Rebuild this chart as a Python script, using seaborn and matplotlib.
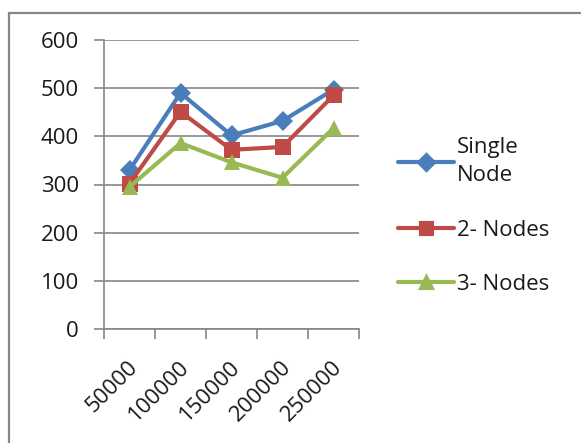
import matplotlib
matplotlib.use("Agg")
import matplotlib.pyplot as plt
import seaborn as sns
import pandas as pd
from matplotlib.patches import Rectangle
from matplotlib.transforms import ScaledTranslation

sizes = ["50000", "100000", "150000", "200000", "250000"]
single_node = [330, 490, 402, 432, 497]
two_nodes = [302, 451, 372, 378, 485]
three_nodes = [295, 386, 346, 314, 417]
series_names = ["Single\nNode", "2- Nodes", "3- Nodes"]
y_ticks = [0, 100, 200, 300, 400, 500, 600]

df = pd.DataFrame({
    "size": sizes * 3,
    "time": single_node + two_nodes + three_nodes,
    "series": [series_names[0]] * 5 + [series_names[1]] * 5 + [series_names[2]] * 5,
})

sns.set_theme(style="white")
plt.rcParams["font.family"] = ["Open Sans", "DejaVu Sans"]

colors = ["#4A7EBB", "#BE4B48", "#98B954"]
fs = 16

fig = plt.figure(figsize=(5.81, 4.43), dpi=100)
ax = fig.add_axes([104 / 581, 1 - 329 / 443, 255 / 581, 289 / 443])

sns.pointplot(data=df, x="size", y="time", hue="series", order=sizes,
              hue_order=series_names, palette=colors,
              markers=["D", "s", "^"], linestyles=["-", "-", "-"],
              errorbar=None, markersize=10, linewidth=3, ax=ax, legend=True)

msizes = [10.5, 12, 12]
for line, ms in zip(ax.lines[:3], msizes):
    line.set_markersize(ms)
    line.set_markeredgewidth(0)

ax.set_xlim(-0.5, 4.5)
ax.set_ylim(0, 600)
ax.set_yticks(y_ticks)
ax.set_yticklabels([str(v) for v in y_ticks], fontsize=fs, color="#1a1a1a")
ax.yaxis.grid(True, color="#868686", linewidth=1.2)
ax.set_axisbelow(True)
ax.set_xlabel("")
ax.set_ylabel("")

ax.set_xticks(range(len(sizes)))
ax.set_xticklabels(sizes, rotation=45, ha="right", va="top",
                   rotation_mode="anchor", fontsize=fs, color="#1a1a1a")
ax.tick_params(axis="x", which="major", length=0, pad=20)
ax.set_xticks([i - 0.5 for i in range(len(sizes) + 1)], minor=True)
ax.tick_params(axis="x", which="minor", length=7, width=1.2, color="#868686",
               direction="out", bottom=True)
ax.tick_params(axis="y", length=7, width=1.2, color="#868686", direction="out",
               left=True, pad=11)
for lbl in ax.get_xticklabels():
    lbl.set_transform(lbl.get_transform() + ScaledTranslation(-2 / 100, 0, fig.dpi_scale_trans))

for s in ["top", "right"]:
    ax.spines[s].set_visible(False)
for s in ["left", "bottom"]:
    ax.spines[s].set_color("#868686")
    ax.spines[s].set_linewidth(1.2)

handles, labels = ax.get_legend_handles_labels()
leg = ax.legend(handles, labels, loc="upper left",
                bbox_to_anchor=(398 / 581, 1 - 137 / 443),
                bbox_transform=fig.transFigure, frameon=False,
                fontsize=fs, labelspacing=1.5, handlelength=2.5,
                handletextpad=0.15, borderpad=0, borderaxespad=0,
                markerscale=0.8)
for t in leg.get_texts():
    t.set_linespacing(1.45)
    t.set_color("#1a1a1a")

fig.patches.append(Rectangle((9 / 581, -0.2), 1.2, 1 - 13 / 443 + 0.2,
                             transform=fig.transFigure, fill=False,
                             edgecolor="#868686", linewidth=1.6))

fig.savefig("out.png", dpi=100)
